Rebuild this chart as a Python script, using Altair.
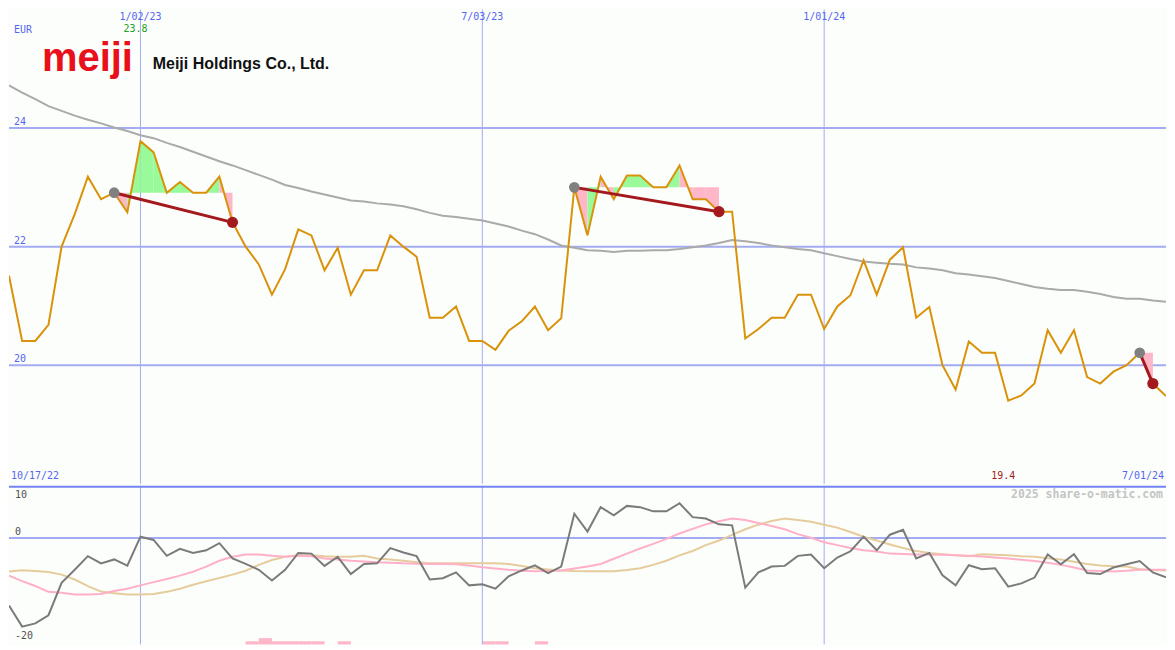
import altair as alt
import pandas as pd

# ---------------- data ----------------
dates = pd.date_range("2022-10-24", periods=89, freq="7D").strftime("%Y-%m-%d").tolist()

price = [21.51, 20.41, 20.41, 20.68, 22.00, 22.55, 23.18, 22.80, 22.91, 22.58,
         23.78, 23.59, 22.91, 23.09, 22.91, 22.91, 23.18, 22.41, 22.00, 21.70,
         21.19, 21.62, 22.29, 22.19, 21.60, 21.98, 21.19, 21.60, 21.60, 22.19,
         22.00, 21.83, 20.80, 20.80, 20.99, 20.41, 20.41, 20.26, 20.58, 20.74,
         20.99, 20.59, 20.79, 23.00, 22.19, 23.18, 22.80, 23.20, 23.20, 23.00,
         23.00, 23.37, 22.80, 22.80, 22.59, 22.59, 20.45, 20.61, 20.80, 20.80,
         21.19, 21.19, 20.61, 20.99, 21.18, 21.77, 21.19, 21.78, 21.99, 20.80,
         20.98, 20.00, 19.59, 20.40, 20.21, 20.21, 19.40, 19.49, 19.69, 20.59,
         20.21, 20.59, 19.80, 19.69, 19.89, 20.00, 20.21, 19.69, 19.48]

ma = [24.72, 24.60, 24.49, 24.37, 24.29, 24.21, 24.14, 24.08, 24.01, 23.95,
      23.88, 23.83, 23.75, 23.68, 23.60, 23.52, 23.44, 23.37, 23.29, 23.21,
      23.13, 23.04, 22.99, 22.93, 22.88, 22.83, 22.78, 22.76, 22.73, 22.71,
      22.68, 22.63, 22.57, 22.52, 22.50, 22.47, 22.44, 22.39, 22.34, 22.27,
      22.21, 22.12, 22.02, 21.98, 21.94, 21.93, 21.91, 21.93, 21.93, 21.94,
      21.94, 21.96, 21.99, 22.02, 22.06, 22.11, 22.09, 22.06, 22.02, 21.99,
      21.96, 21.94, 21.89, 21.84, 21.79, 21.75, 21.73, 21.71, 21.70, 21.65,
      21.63, 21.60, 21.55, 21.53, 21.50, 21.47, 21.42, 21.37, 21.32, 21.29,
      21.27, 21.27, 21.24, 21.20, 21.15, 21.12, 21.12, 21.09, 21.07]

osc = [-13.59, -17.84, -17.18, -15.55, -9.02, -6.39, -3.65, -5.10, -4.31, -5.55,
       0.27, -0.39, -3.59, -2.16, -3.00, -2.47, -1.04, -4.12, -5.22, -6.39,
       -8.55, -6.39, -3.00, -3.14, -5.61, -3.78, -7.25, -5.22, -5.10, -2.02,
       -2.90, -3.65, -8.35, -8.10, -6.92, -9.53, -9.33, -10.20, -7.71, -6.53,
       -5.49, -7.06, -5.75, 4.90, 1.31, 6.22, 4.59, 6.47, 6.22, 5.37,
       5.37, 7.00, 4.20, 3.92, 2.75, 2.55, -10.00, -6.92, -5.75, -5.61,
       -3.59, -3.33, -6.08, -3.92, -2.67, 0.27, -2.47, 0.67, 1.65, -4.12,
       -3.00, -7.51, -9.53, -5.49, -6.27, -6.08, -9.80, -9.14, -7.96, -3.33,
       -5.29, -3.25, -7.06, -7.25, -5.94, -5.29, -4.63, -6.92, -7.90]

osc_fast = [-7.57, -8.69, -9.67, -10.84, -11.04, -11.37, -11.37, -11.29, -10.65, -10.20,
            -9.53, -8.88, -8.24, -7.57, -6.78, -5.75, -4.57, -3.78, -3.33, -3.33,
            -3.59, -3.78, -3.59, -3.65, -4.12, -4.31, -4.57, -4.71, -4.90, -4.96,
            -5.10, -5.16, -5.22, -5.25, -5.29, -5.55, -5.88, -6.14, -6.39, -6.57,
            -6.67, -6.63, -6.53, -6.14, -5.75, -5.22, -4.18, -3.14, -2.12, -1.18,
            -0.16, 0.92, 1.84, 2.75, 3.37, 3.92, 3.61, 3.02, 2.43, 1.76,
            0.78, 0.04, -0.84, -1.43, -2.02, -2.47, -2.71, -3.14, -3.24, -3.33,
            -3.37, -3.39, -3.45, -3.59, -3.73, -3.92, -4.12, -4.37, -4.63, -4.96,
            -5.41, -5.94, -6.53, -6.63, -6.73, -6.59, -6.39, -6.39, -6.39]

osc_slow = [-6.73, -6.47, -6.63, -6.86, -7.37, -8.35, -9.67, -10.78, -11.10, -11.37,
            -11.37, -11.29, -10.84, -10.20, -9.41, -8.69, -8.04, -7.37, -6.59, -5.41,
            -4.43, -3.78, -3.45, -3.45, -3.65, -3.78, -3.78, -3.59, -4.12, -4.31,
            -4.57, -4.86, -5.10, -5.10, -5.10, -5.10, -5.10, -5.10, -5.25, -5.65,
            -6.08, -6.33, -6.53, -6.63, -6.67, -6.67, -6.67, -6.43, -6.08, -5.41,
            -4.57, -3.49, -2.61, -1.43, -0.51, 0.63, 1.76, 2.69, 3.41, 3.92,
            3.61, 3.27, 2.69, 2.10, 1.22, 0.27, -0.51, -1.29, -2.02, -2.61,
            -3.00, -3.25, -3.49, -3.65, -3.29, -3.39, -3.45, -3.65, -3.78, -4.08,
            -4.31, -4.76, -5.25, -5.55, -5.69, -5.75, -6.27, -6.43, -6.53]

vol_idx = [18, 19, 20, 21, 22, 23, 25, 36, 37, 40]
vol_val = [1, 2, 1, 1, 1, 1, 1, 1, 1, 1]

trades = [(8, 17), (43, 54), (86, 87)]

grid_dates = ["2023-01-02", "2023-07-03", "2024-01-01"]
grid_labels = ["1/02/23", "7/03/23", "1/01/24"]
price_grid = [24, 22, 20]
osc_grid = [0]

# ---------------- layout / style ----------------
W, H1, H2 = 1159, 475, 159
BG = "#fcfefc"
GRID = "#a3acf2"
BLUE_TXT = "#5565f0"
MONO = "DejaVu Sans Mono"

xdom = [alt.DateTime(year=2022, month=10, date=24, utc=True),
        alt.DateTime(year=2024, month=7, date=1, utc=True)]
X = alt.X("date:T", scale=alt.Scale(type="utc", domain=xdom), axis=None)
X2_date = "date2:T"

df = pd.DataFrame({"date": dates, "price": price, "ma": ma,
                   "osc": osc, "fast": osc_fast, "slow": osc_slow})

fill_rows = []
trade_rows = []
for t, (a, b) in enumerate(trades):
    base = price[a]
    for i in range(a, b):
        d = "up" if price[i + 1] >= base else "down"
        seg = f"{t}-{i}"
        fill_rows.append({"seg": seg, "date": dates[i], "p": price[i], "base": base, "dir": d})
        fill_rows.append({"seg": seg, "date": dates[i + 1], "p": price[i + 1], "base": base, "dir": d})
    trade_rows.append({"trade": t, "date": dates[a], "p": price[a], "kind": "entry"})
    trade_rows.append({"trade": t, "date": dates[b], "p": price[b], "kind": "exit"})
fills = pd.DataFrame(fill_rows)
tr = pd.DataFrame(trade_rows)

imax = price.index(max(price))
imin = price.index(min(price))

Yp = alt.Scale(domain=[18, 26], nice=False, zero=False)
Yo = alt.Scale(domain=[-21.43, 10.53], nice=False, zero=False)

gdf = pd.DataFrame({"date": grid_dates, "label": grid_labels})

# ---------------- upper panel ----------------
hgrid = alt.Chart(pd.DataFrame({"v": price_grid})).mark_rule(color=GRID, strokeWidth=2).encode(
    y=alt.Y("v:Q", scale=Yp, axis=None))
vgrid = alt.Chart(gdf).mark_rule(color=GRID, strokeWidth=1).encode(x=X)

area = alt.Chart(fills).mark_area(opacity=1, clip=True).encode(
    x=X, y=alt.Y("p:Q", scale=Yp, axis=None), y2="base:Q", detail="seg:N",
    color=alt.Color("dir:N", scale=alt.Scale(domain=["up", "down"], range=["#98fa98", "#ffb6c8"]), legend=None))

ma_line = alt.Chart(df).mark_line(color="#aaaaaa", strokeWidth=2, clip=True).encode(
    x=X, y=alt.Y("ma:Q", scale=Yp, axis=None))
price_line = alt.Chart(df).mark_line(color="#d9920a", strokeWidth=2, clip=True).encode(
    x=X, y=alt.Y("price:Q", scale=Yp, axis=None))
trade_line = alt.Chart(tr).mark_line(color="#a3191e", strokeWidth=3).encode(
    x=X, y=alt.Y("p:Q", scale=Yp, axis=None), detail="trade:N")
entry_dot = alt.Chart(tr[tr.kind == "entry"]).mark_circle(color="#808080", size=115, opacity=1).encode(
    x=X, y=alt.Y("p:Q", scale=Yp, axis=None))
exit_dot = alt.Chart(tr[tr.kind == "exit"]).mark_circle(color="#a3191e", size=125, opacity=1).encode(
    x=X, y=alt.Y("p:Q", scale=Yp, axis=None))

date_lbl = alt.Chart(gdf).mark_text(font=MONO, fontSize=10, color=BLUE_TXT, baseline="middle").encode(
    x=X, y=alt.value(7), text="label:N")
price_lbl = alt.Chart(pd.DataFrame({"v": price_grid, "t": [str(v) for v in price_grid]})).mark_text(
    font=MONO, fontSize=10, color=BLUE_TXT, align="left", baseline="bottom", dy=-1).encode(
    x=alt.value(5), y=alt.Y("v:Q", scale=Yp, axis=None), text="t:N")
eur_lbl = alt.Chart(pd.DataFrame({"t": ["EUR"]})).mark_text(
    font=MONO, fontSize=10, color=BLUE_TXT, align="left", baseline="middle").encode(
    x=alt.value(5), y=alt.value(20), text="t:N")
max_lbl = alt.Chart(pd.DataFrame({"date": [dates[imax]], "t": [f"{max(price):.1f}"]})).mark_text(
    font=MONO, fontSize=10, color="#22a022", baseline="middle", dx=-5).encode(
    x=X, y=alt.value(19), text="t:N")
min_lbl = alt.Chart(pd.DataFrame({"date": [dates[imin]], "t": [f"{min(price):.1f}"]})).mark_text(
    font=MONO, fontSize=10, color="#a3191e", baseline="middle", dx=-5).encode(
    x=X, y=alt.value(H1 - 8), text="t:N")
start_lbl = alt.Chart(pd.DataFrame({"t": ["10/17/22"]})).mark_text(
    font=MONO, fontSize=10, color=BLUE_TXT, align="left", baseline="middle").encode(
    x=alt.value(2), y=alt.value(H1 - 8), text="t:N")
end_lbl = alt.Chart(pd.DataFrame({"t": ["7/01/24"]})).mark_text(
    font=MONO, fontSize=10, color=BLUE_TXT, align="right", baseline="middle").encode(
    x=alt.value(W - 2), y=alt.value(H1 - 8), text="t:N")
logo = alt.Chart(pd.DataFrame({"t": ["meiji"]})).mark_text(
    font="Liberation Sans", fontSize=40, fontWeight="bold", color="#e8101a",
    align="left", baseline="alphabetic").encode(x=alt.value(33), y=alt.value(62), text="t:N")
company = alt.Chart(pd.DataFrame({"t": ["Meiji Holdings Co., Ltd."]})).mark_text(
    font="Liberation Sans", fontSize=16, fontWeight="bold", color="#111111",
    align="left", baseline="alphabetic").encode(x=alt.value(144), y=alt.value(60), text="t:N")

upper = alt.layer(hgrid, vgrid, area, ma_line, price_line, trade_line, entry_dot, exit_dot,
                  date_lbl, price_lbl, eur_lbl, max_lbl, min_lbl, start_lbl, end_lbl, logo, company
                  ).properties(width=W, height=H1)

# ---------------- lower panel ----------------
vdf = pd.DataFrame({"date": [dates[i] for i in vol_idx],
                    "date2": [dates[i + 1] for i in vol_idx], "vol": vol_val})
vol_bars = alt.Chart(vdf).mark_rect(color="#ffb6c8").encode(
    x=X, x2=X2_date, y=alt.Y("vol:Q", scale=alt.Scale(domain=[0, 50], nice=False), axis=None),
    y2=alt.datum(0))

o_hgrid = alt.Chart(pd.DataFrame({"v": osc_grid})).mark_rule(color=GRID, strokeWidth=2).encode(
    y=alt.Y("v:Q", scale=Yo, axis=None))
o_vgrid = alt.Chart(gdf).mark_rule(color=GRID, strokeWidth=1).encode(x=X)
sep = alt.Chart(pd.DataFrame({"a": [0]})).mark_rule(color="#7483f0", strokeWidth=2).encode(
    x=alt.value(0), x2=alt.value(W), y=alt.value(1))

slow_line = alt.Chart(df).mark_line(color="#e6cc9c", strokeWidth=2, clip=True).encode(
    x=X, y=alt.Y("slow:Q", scale=Yo, axis=None))
fast_line = alt.Chart(df).mark_line(color="#ffb0c6", strokeWidth=2, clip=True).encode(
    x=X, y=alt.Y("fast:Q", scale=Yo, axis=None))
osc_line = alt.Chart(df).mark_line(color="#7a7a7a", strokeWidth=2, clip=True).encode(
    x=X, y=alt.Y("osc:Q", scale=Yo, axis=None))

o_lbl = alt.Chart(pd.DataFrame({"t": ["10", "0", "-20"], "py": [9, 46, 151]})).mark_text(
    font=MONO, fontSize=10, color="#505050", align="left", baseline="middle").encode(
    x=alt.value(6), y=alt.Y("py:Q", scale=alt.Scale(domain=[0, H2], range=[0, H2]), axis=None), text="t:N")
credit = alt.Chart(pd.DataFrame({"t": ["2025 share-o-matic.com"]})).mark_text(
    font=MONO, fontSize=11.5, fontWeight="bold", color="#c4c4c4", align="right", baseline="middle").encode(
    x=alt.value(W - 3), y=alt.value(9), text="t:N")

lower_main = alt.layer(o_hgrid, o_vgrid, slow_line, fast_line, osc_line)
lower = alt.layer(vol_bars, lower_main, sep, o_lbl, credit).resolve_scale(y="independent").properties(
    width=W, height=H2)

chart = alt.vconcat(upper, lower, spacing=0).resolve_scale(
    y="independent", color="independent").properties(
    background=BG, padding=0).configure_view(stroke=None).configure_concat(spacing=0)

chart.save("out.html", embed_options={"renderer": "svg", "actions": False})
